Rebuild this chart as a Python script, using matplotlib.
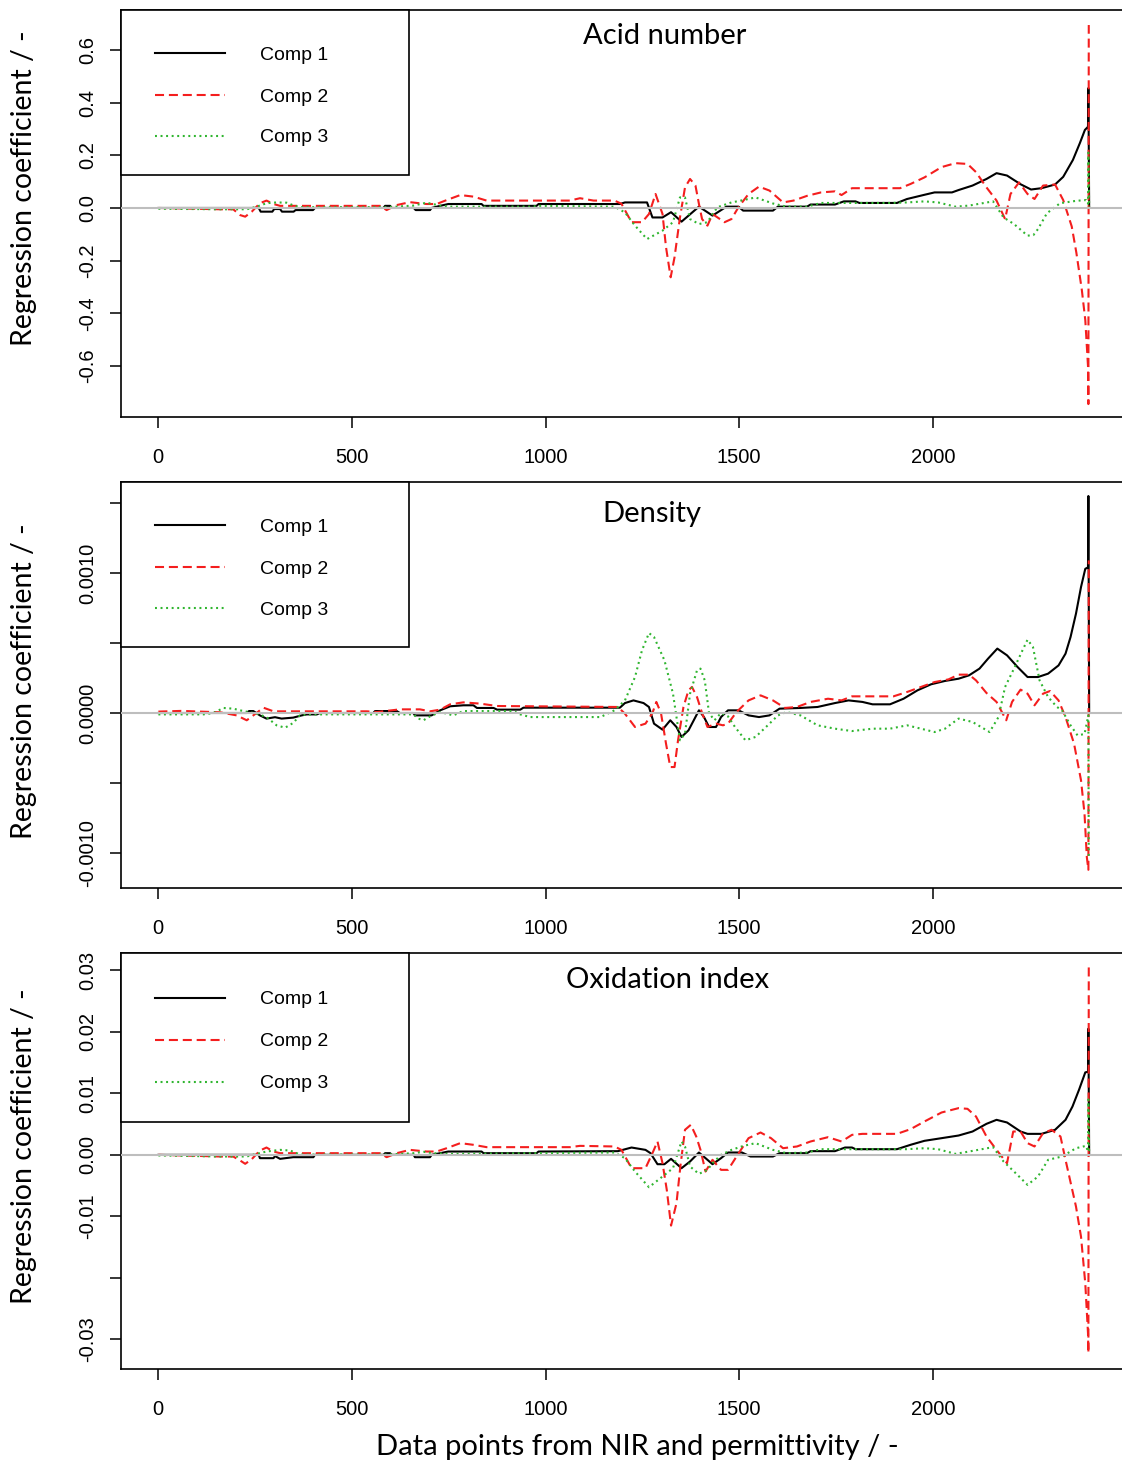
#import libraries
import numpy as np
import matplotlib
matplotlib.use('Agg')
import matplotlib.pyplot as plt
from matplotlib.lines import Line2D
from matplotlib.patches import Rectangle

#---------------- data ----------------
#Acid number
acid_c1_x = [1, 260, 265, 295, 300, 315, 320, 350, 355, 400, 405, 582, 586, 599, 603, 660, 665, 702, 706, 728, 749, 835, 840, 977, 982, 1192, 1205, 1262, 1276, 1302, 1324, 1351, 1396, 1431, 1467, 1498, 1510, 1587, 1600, 1675, 1684, 1747, 1770, 1800, 1810, 1907, 1933, 1978, 2004, 2049, 2066, 2102, 2138, 2164, 2191, 2226, 2253, 2280, 2315, 2336, 2361, 2379, 2392, 2400, 2401, 2403]
acid_c1_y = [0, 0, -0.014, -0.014, -0.004, -0.004, -0.014, -0.014, -0.008, -0.008, 0, 0, 0.008, 0.008, 0, 0, -0.008, -0.008, 0, 0.008, 0.015, 0.015, 0.008, 0.008, 0.015, 0.015, 0.021, 0.021, -0.036, -0.036, -0.016, -0.052, 0.005, -0.029, 0.005, 0.005, -0.01, -0.01, 0.005, 0.005, 0.013, 0.013, 0.025, 0.025, 0.019, 0.019, 0.034, 0.05, 0.059, 0.059, 0.068, 0.085, 0.11, 0.132, 0.123, 0.09, 0.07, 0.075, 0.089, 0.118, 0.182, 0.246, 0.296, 0.308, 0.455, 0.0]
acid_c2_x = [1, 160, 194, 212, 225, 242, 263, 280, 298, 315, 573, 590, 616, 650, 693, 719, 745, 780, 814, 848, 1063, 1089, 1124, 1178, 1196, 1222, 1249, 1267, 1284, 1302, 1311, 1323, 1333, 1347, 1360, 1373, 1387, 1396, 1404, 1418, 1431, 1444, 1462, 1480, 1498, 1524, 1551, 1578, 1613, 1640, 1675, 1711, 1747, 1764, 1791, 1818, 1915, 1942, 1978, 2022, 2058, 2089, 2111, 2138, 2164, 2186, 2200, 2222, 2244, 2262, 2284, 2315, 2336, 2358, 2370, 2384, 2393, 2400, 2401, 2402]
acid_c2_y = [0, -0.005, -0.005, -0.027, -0.033, -0.014, 0.018, 0.028, 0.015, 0.008, 0.008, -0.008, 0.011, 0.022, 0.015, 0.015, 0.03, 0.049, 0.043, 0.028, 0.028, 0.037, 0.028, 0.028, 0.016, -0.054, -0.054, -0.023, 0.053, -0.023, -0.149, -0.263, -0.187, -0.036, 0.078, 0.11, 0.085, 0.015, -0.042, -0.067, -0.023, -0.036, -0.054, -0.042, 0.003, 0.053, 0.081, 0.066, 0.021, 0.028, 0.046, 0.059, 0.063, 0.049, 0.075, 0.075, 0.075, 0.091, 0.116, 0.155, 0.17, 0.167, 0.136, 0.078, 0.028, -0.042, 0.053, 0.097, 0.053, 0.034, 0.085, 0.089, 0.03, -0.07, -0.17, -0.31, -0.425, -0.60, -0.744, 0.694]
acid_c3_x = [1, 160, 229, 255, 280, 306, 332, 349, 366, 590, 659, 693, 728, 754, 960, 986, 1178, 1205, 1231, 1262, 1302, 1329, 1347, 1360, 1373, 1396, 1418, 1431, 1444, 1480, 1511, 1542, 1587, 1622, 1675, 1711, 1889, 1933, 1978, 2013, 2058, 2093, 2155, 2182, 2209, 2244, 2259, 2271, 2294, 2328, 2369, 2395, 2400, 2401, 2403]
acid_c3_y = [-0.003, -0.005, -0.005, 0.005, 0.018, 0.021, 0.02, 0.01, 0.003, 0.003, 0.009, 0.02, 0.009, 0.005, 0.005, 0.008, 0.005, -0.017, -0.067, -0.118, -0.086, -0.054, 0.04, 0.04, -0.042, -0.061, -0.054, -0.023, 0.003, 0.021, 0.03, 0.04, 0.017, 0.005, 0.005, 0.019, 0.019, 0.021, 0.025, 0.021, 0.005, 0.009, 0.025, -0.036, -0.061, -0.105, -0.103, -0.08, -0.02, 0.018, 0.027, 0.03, 0.016, 0.21, 0.0]

#Density (values in 1e-4)
dens_c1_x = [1, 229, 235, 246, 263, 280, 302, 319, 349, 371, 384, 410, 418, 556, 560, 616, 624, 659, 663, 706, 728, 754, 788, 814, 823, 866, 875, 935, 943, 1192, 1205, 1227, 1253, 1267, 1280, 1302, 1322, 1338, 1351, 1369, 1396, 1409, 1422, 1440, 1453, 1471, 1498, 1524, 1551, 1578, 1604, 1658, 1702, 1747, 1782, 1818, 1844, 1889, 1924, 1960, 1995, 2031, 2066, 2093, 2120, 2142, 2166, 2191, 2218, 2244, 2271, 2297, 2324, 2342, 2355, 2369, 2382, 2393, 2400, 2401, 2403]
dens_c1_y = [0, 0, 0.14, 0.14, -0.17, -0.4, -0.3, -0.4, -0.33, -0.17, -0.1, -0.1, 0, 0, 0.14, 0.14, 0, 0, -0.17, -0.17, 0.19, 0.48, 0.55, 0.55, 0.36, 0.36, 0.24, 0.24, 0.38, 0.38, 0.71, 0.9, 0.71, 0.43, -0.76, -1.19, -0.52, -1.0, -1.71, -1.24, 0.19, -0.29, -1.0, -1.0, -0.29, 0.19, 0.19, -0.17, -0.29, -0.17, 0.31, 0.36, 0.43, 0.71, 0.9, 0.79, 0.62, 0.62, 1.02, 1.62, 2.05, 2.29, 2.45, 2.69, 3.17, 3.88, 4.6, 4.12, 3.29, 2.57, 2.57, 2.81, 3.4, 4.24, 5.43, 7.1, 9.0, 10.3, 10.4, 15.5, 0]
dens_c2_x = [1, 60, 160, 203, 229, 246, 272, 298, 539, 565, 624, 676, 702, 728, 754, 788, 831, 875, 1187, 1205, 1231, 1258, 1276, 1286, 1298, 1311, 1322, 1333, 1342, 1356, 1369, 1378, 1391, 1404, 1418, 1440, 1458, 1471, 1493, 1524, 1555, 1587, 1618, 1649, 1684, 1729, 1764, 1791, 1898, 1933, 1969, 2004, 2040, 2066, 2093, 2111, 2138, 2164, 2189, 2204, 2226, 2244, 2262, 2284, 2302, 2324, 2342, 2364, 2382, 2391, 2397, 2401, 2402]
dens_c2_y = [0.1, 0.15, 0.05, -0.17, -0.52, -0.17, 0.38, 0.12, 0.12, 0.07, 0.26, 0.26, 0.12, 0.24, 0.62, 0.76, 0.67, 0.5, 0.43, -0.05, -1.0, -0.76, 0.0, 0.79, 0.0, -2.19, -3.86, -3.86, -1.95, 0.43, 1.62, 1.86, 1.14, 0.0, -1.0, -0.76, -0.88, -0.76, 0.07, 0.9, 1.26, 0.9, 0.36, 0.43, 0.79, 1.02, 0.9, 1.19, 1.19, 1.5, 1.86, 2.21, 2.4, 2.74, 2.74, 2.33, 1.43, 0.79, -0.52, 0.79, 1.67, 1.38, 0.55, 1.38, 1.57, 0.9, -0.29, -2.19, -4.81, -7.19, -10.3, -11.2, 10.9]
dens_c3_x = [1, 117, 143, 169, 194, 220, 255, 280, 306, 328, 349, 366, 384, 659, 672, 685, 702, 728, 762, 788, 917, 935, 960, 1142, 1178, 1205, 1231, 1249, 1267, 1280, 1307, 1329, 1347, 1360, 1373, 1391, 1400, 1411, 1422, 1436, 1453, 1471, 1489, 1516, 1542, 1569, 1600, 1622, 1658, 1702, 1747, 1791, 1844, 1889, 1933, 1969, 2004, 2031, 2066, 2102, 2146, 2169, 2186, 2209, 2231, 2244, 2258, 2275, 2297, 2320, 2333, 2355, 2373, 2391, 2401, 2402]
dens_c3_y = [-0.1, -0.1, 0.0, 0.36, 0.31, 0.14, -0.05, -0.29, -0.88, -1.05, -0.71, -0.17, -0.1, -0.1, -0.4, -0.52, -0.24, 0.07, -0.17, 0.14, 0.14, -0.1, -0.29, -0.29, 0.19, 0.9, 2.57, 4.48, 5.71, 5.43, 3.76, 1.38, -1.95, -1.48, 1.38, 3.05, 3.17, 2.33, 0.0, -0.52, 0.0, -0.24, -1.0, -1.95, -1.71, -1.0, -0.17, 0.07, -0.17, -0.88, -1.12, -1.29, -1.12, -1.12, -0.88, -1.12, -1.36, -1.12, -0.4, -0.64, -1.36, -0.29, 1.86, 3.17, 4.48, 5.24, 4.71, 2.33, 1.14, 0.43, 0.19, -0.88, -1.6, -1.5, -0.17, -10.4]

#Oxidation index (values in 1e-3)
ox_c1_x = [1, 260, 263, 298, 302, 315, 349, 401, 405, 582, 586, 599, 603, 660, 663, 702, 706, 728, 749, 835, 840, 977, 982, 1187, 1222, 1258, 1271, 1289, 1307, 1324, 1351, 1373, 1396, 1413, 1431, 1453, 1471, 1507, 1529, 1587, 1604, 1675, 1684, 1747, 1773, 1791, 1800, 1907, 1942, 1978, 2022, 2066, 2102, 2138, 2164, 2191, 2226, 2244, 2280, 2315, 2342, 2360, 2377, 2393, 2400, 2401, 2403]
ox_c1_y = [0, 0, -0.54, -0.54, -0.2, -0.65, -0.38, -0.38, 0, 0, 0.27, 0.27, 0, 0, -0.38, -0.38, 0, 0.27, 0.54, 0.54, 0.27, 0.27, 0.54, 0.6, 1.19, 0.81, 0.27, -1.52, -1.52, -0.65, -2.17, -1.08, 0.38, -0.54, -1.52, -0.54, 0.38, 0.38, -0.27, -0.27, 0.27, 0.27, 0.6, 0.6, 1.19, 1.19, 0.92, 0.92, 1.63, 2.28, 2.71, 3.14, 3.79, 5.04, 5.69, 5.26, 3.79, 3.41, 3.41, 4.07, 5.69, 7.86, 10.6, 13.4, 13.5, 20.5, 0]
ox_c2_x = [1, 160, 194, 212, 225, 242, 263, 280, 298, 315, 573, 590, 616, 650, 693, 719, 745, 780, 814, 848, 1063, 1089, 1178, 1196, 1222, 1258, 1276, 1289, 1302, 1313, 1324, 1338, 1348, 1360, 1375, 1389, 1400, 1413, 1431, 1453, 1471, 1493, 1524, 1555, 1582, 1613, 1649, 1684, 1729, 1764, 1791, 1818, 1907, 1942, 1978, 2022, 2066, 2089, 2111, 2138, 2164, 2191, 2207, 2226, 2244, 2262, 2284, 2306, 2329, 2342, 2369, 2382, 2393, 2400, 2401, 2402]
ox_c2_y = [0, -0.27, -0.27, -0.92, -1.46, -0.7, 0.7, 1.19, 0.54, 0.27, 0.27, -0.38, 0.27, 0.81, 0.54, 0.54, 1.08, 1.9, 1.63, 1.25, 1.25, 1.46, 1.36, 0.81, -2.17, -2.17, 0.27, 2.17, -1.36, -5.69, -11.5, -7.86, -1.9, 4.07, 4.88, 2.98, 0.81, -2.71, -0.81, -2.44, -2.44, -0.27, 2.71, 3.63, 2.71, 1.08, 1.36, 2.17, 2.87, 2.17, 3.25, 3.41, 3.41, 4.17, 5.42, 6.88, 7.59, 7.48, 6.23, 2.98, 0.81, -1.36, 3.79, 3.79, 1.9, 1.36, 3.52, 4.07, 2.98, -0.81, -8.4, -13.3, -20.9, -29.0, -32.2, 30.6]
ox_c3_x = [1, 160, 229, 255, 280, 315, 341, 358, 366, 590, 659, 685, 711, 754, 1178, 1205, 1231, 1267, 1302, 1329, 1351, 1360, 1373, 1396, 1418, 1431, 1453, 1480, 1511, 1542, 1587, 1622, 1675, 1711, 1889, 1933, 1978, 2013, 2058, 2093, 2155, 2182, 2209, 2244, 2271, 2297, 2333, 2369, 2395, 2400, 2401, 2403]
ox_c3_y = [-0.1, -0.27, -0.27, 0.16, 0.54, 0.81, 0.7, 0.27, 0.05, 0.05, 0.27, 0.49, 0.27, 0.16, 0.38, -0.54, -2.71, -5.26, -3.52, -2.17, 2.17, 1.36, -1.9, -3.09, -2.44, -1.36, 0.0, 0.81, 1.46, 1.9, 0.81, 0.27, 0.38, 0.92, 0.92, 0.92, 1.08, 0.92, 0.16, 0.54, 1.25, -1.08, -2.71, -4.88, -3.52, -0.81, -0.27, 1.08, 1.46, 0.54, 9.0, 0]

titles = ['Acid number', 'Density', 'Oxidation index']
comp_labels = ['Comp 1', 'Comp 2', 'Comp 3']
xtick_vals = [0, 500, 1000, 1500, 2000]
acid_yticks = [-0.6, -0.4, -0.2, 0.0, 0.2, 0.4, 0.6]
acid_ylabels = ['-0.6', '-0.4', '-0.2', '0.0', '0.2', '0.4', '0.6']
dens_yticks = [-0.0010, -0.0005, 0.0, 0.0005, 0.0010, 0.0015]
dens_ylabels = ['-0.0010', '', '0.0000', '', '0.0010', '']
ox_yticks = [-0.03, -0.02, -0.01, 0.0, 0.01, 0.02, 0.03]
ox_ylabels = ['-0.03', '', '-0.01', '0.00', '0.01', '0.02', '0.03']

#---------------- styling ----------------
W, H = 1122, 1466
plt.rcParams['lines.scale_dashes'] = False
tick_font = 'Liberation Sans'
label_font = 'Lato'
col1, col2, col3 = 'black', '#F41E1E', '#2FB52F'
styles = [dict(color=col1, lw=1.5, linestyle='-'),
          dict(color=col2, lw=1.5, dashes=(6.5, 3.5)),
          dict(color=col3, lw=1.5, dashes=(1.4, 2.6))]

def fx(px):
    return px / W

def fy(py):
    return 1 - py / H

fig = plt.figure(figsize=(W / 100, H / 100), dpi=100)

xl = (-95.5, 2500)
x0_px = 158 + xl[0] * 0.3875
x1_px = 158 + xl[1] * 0.3875

panels = [
    dict(top=10, bot=417, ylim=(-0.793, 0.751), yt=acid_yticks, yl=acid_ylabels, scale=1.0,
         data=[(acid_c1_x, acid_c1_y), (acid_c2_x, acid_c2_y), (acid_c3_x, acid_c3_y)],
         title=(665, 36), ylab=188, leg_bot=175, leg_rows=[53, 95, 136]),
    dict(top=482, bot=888, ylim=(-0.00125, 0.00165), yt=dens_yticks, yl=dens_ylabels, scale=1e-4,
         data=[(dens_c1_x, dens_c1_y), (dens_c2_x, dens_c2_y), (dens_c3_x, dens_c3_y)],
         title=(652, 514), ylab=681, leg_bot=647, leg_rows=[525, 567, 608]),
    dict(top=953, bot=1369, ylim=(-0.0348, 0.0328), yt=ox_yticks, yl=ox_ylabels, scale=1e-3,
         data=[(ox_c1_x, ox_c1_y), (ox_c2_x, ox_c2_y), (ox_c3_x, ox_c3_y)],
         title=(668, 980), ylab=1146, leg_bot=1122, leg_rows=[998, 1040, 1082]),
]

for i, p in enumerate(panels):
    ax = fig.add_axes([fx(x0_px), fy(p['bot']), (x1_px - x0_px) / W, (p['bot'] - p['top']) / H])
    for (xs, ys), st in zip(p['data'], styles):
        ax.plot(xs, np.array(ys) * p['scale'], solid_joinstyle='round', **st)
    ax.axhline(0, color='#BEBEBE', lw=1.5, zorder=5)
    ax.set_xlim(xl)
    ax.set_ylim(p['ylim'])
    ax.set_xticks(xtick_vals)
    ax.set_xticklabels([str(v) for v in xtick_vals], fontfamily=tick_font, fontsize=14.5)
    ax.set_yticks(p['yt'])
    ax.set_yticklabels(p['yl'], fontfamily=tick_font, fontsize=14.5, rotation=90, va='center')
    ax.tick_params(axis='x', length=8, width=1.1, pad=14)
    ax.tick_params(axis='y', length=8, width=1.1, pad=9)
    for s in ax.spines.values():
        s.set_linewidth(1.2)

    #title inside the plot
    fig.text(fx(p['title'][0]), fy(p['title'][1]), titles[i], fontfamily=label_font,
             fontsize=21, ha='center', va='center')
    #y label
    fig.text(fx(24), fy(p['ylab']), 'Regression coefficient / -', fontfamily=label_font,
             fontsize=20.5, rotation=90, ha='center', va='center')

    #legend box
    fig.add_artist(Rectangle((fx(121), fy(p['leg_bot'])), (409 - 121) / W, (p['leg_bot'] - p['top']) / H,
                             transform=fig.transFigure, facecolor='white', edgecolor='black',
                             lw=1.2, zorder=10))
    for row, st, lab in zip(p['leg_rows'], styles, comp_labels):
        fig.add_artist(Line2D([fx(155), fx(225)], [fy(row), fy(row)], transform=fig.transFigure,
                              zorder=11, **st))
        fig.text(fx(260), fy(row + 2), lab, fontfamily=tick_font, fontsize=14,
                 ha='left', va='center', zorder=11)

fig.text(fx(637), fy(1447), 'Data points from NIR and permittivity / -', fontfamily=label_font,
         fontsize=21, ha='center', va='center')

plt.savefig('out.png', dpi=100)
